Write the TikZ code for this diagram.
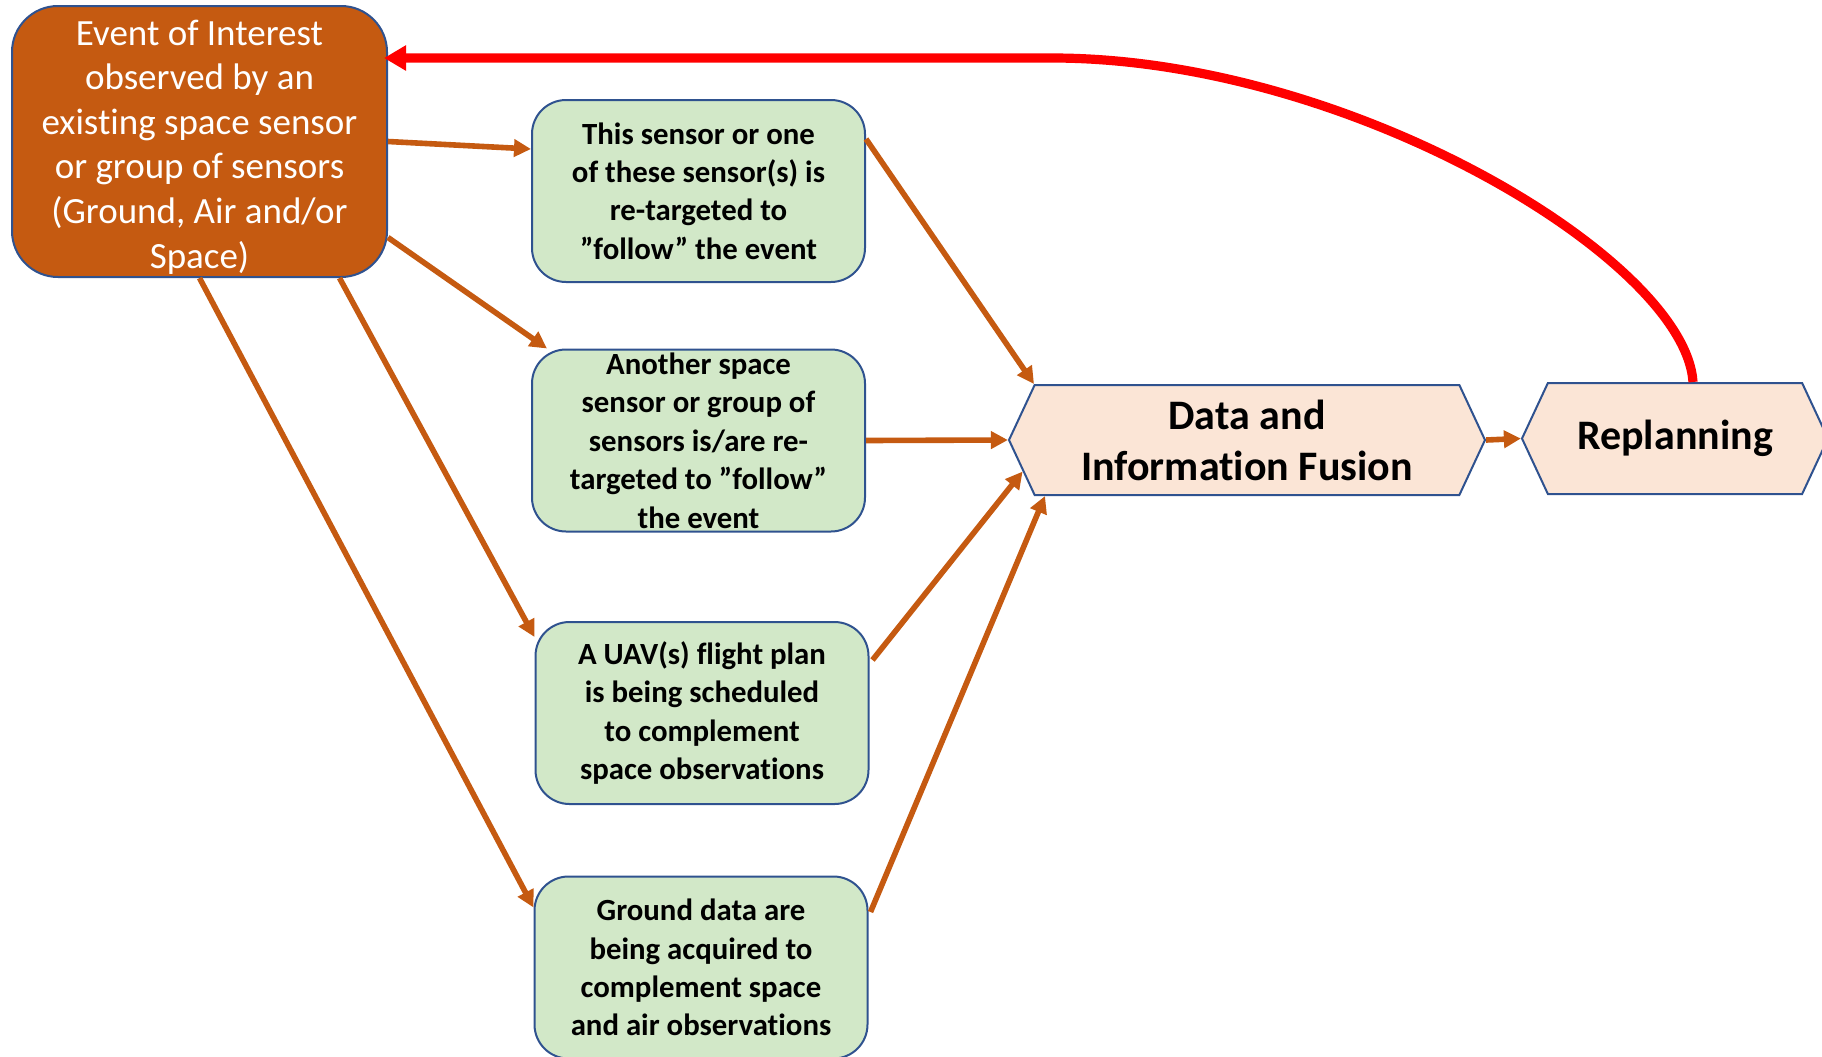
\documentclass[tikz,border=0pt]{standalone}
\usepackage{fontspec}
\setmainfont{Carlito}[RawFeature={-liga;-clig;-calt;-dlig}]
\usepackage{xcolor}
\usepackage{tikz}
\usetikzlibrary{calc, arrows.meta, shapes.symbols}
\definecolor{eventorange}{HTML}{C55A11}
\definecolor{borderblue}{HTML}{2F528F}
\definecolor{sensorgreen}{HTML}{D2E8C8}
\definecolor{fusionpeach}{HTML}{FBE5D6}
\tikzset{
    eventbox/.style={draw=borderblue, line width=1pt, rounded corners=23pt, fill=eventorange, text=white,
        minimum width=187.5pt, minimum height=135.5pt, inner sep=0pt, align=center,
        font=\fontsize{18.5}{22.3}\selectfont},
    sensorbox/.style={draw=borderblue, line width=1pt, rounded corners=17pt, fill=sensorgreen,
        minimum width=166.5pt, minimum height=91pt, inner sep=0pt, align=center,
        font=\fontsize{15.4}{19.2}\selectfont\bfseries},
    hexbox/.style={shape=signal, signal to=east and west, signal pointer angle=130, draw=borderblue,
        line width=1pt, fill=fusionpeach, inner sep=0pt, align=center,
        font=\fontsize{21}{25.5}\selectfont\bfseries},
    flow/.style={draw=eventorange, line width=2.8pt, -{Triangle[length=8.5pt,width=8.5pt]}},
    feedback/.style={draw=red, line width=4.6pt, -{Triangle[length=11pt,width=12pt]}}
}
\begin{document}
\begin{tikzpicture}[x=0.5pt, y=-0.5pt]
    \useasboundingbox (0,0) rectangle (1822,1056);
    \node[eventbox] (event) at (199.5,141.5) {\rule{0pt}{18pt}Event of Interest\\observed by an\\existing space sensor\\or group of sensors\\(Ground, Air and/or\\Space)};
    \node[sensorbox] (retarget) at (698.5,191) {This sensor or one\\of these sensor(s) is\\re-targeted to\\”follow” the event};
    \node[sensorbox] (another) at (698.5,440.5) {Another space\\sensor or group of\\sensors is/are re-\\targeted to ”follow”\\the event};
    \node[sensorbox] (uav) at (702,713) {A UAV(s) flight plan\\is being scheduled\\to complement\\space observations};
    \node[sensorbox] (ground) at (701,967.5) {Ground data are\\being acquired to\\complement space\\and air observations};
    \node[hexbox, minimum width=238pt, minimum height=55pt] (fusion) at (1247,440) {Data and\\Information Fusion};
    \node[hexbox, minimum width=153pt, minimum height=55.5pt] (replan) at (1675,438.5) {Replanning};

    \draw[flow] (event.east) -- ([yshift=21pt]retarget.west);
    \draw[flow] ([yshift=-48pt]event.east) -- ([xshift=8pt]another.north west);
    \draw[flow] ([xshift=70pt]event.south) -- ([yshift=-8pt]uav.north west);
    \draw[flow] (event.south) -- ([yshift=-16pt]ground.north west);
    \draw[flow] ([yshift=26pt]retarget.east) -- ([xshift=-106.5pt]fusion.north);
    \draw[flow] (another.east) -- (fusion.west);
    \draw[flow] ([xshift=1.5pt, yshift=26.5pt]uav.east) -- (fusion.188.7);
    \draw[flow] ([xshift=1pt, yshift=27.75pt]ground.east) -- ([xshift=-101pt]fusion.south);
    \draw[flow] (fusion.east) -- (replan.west);
    \draw[feedback] ([xshift=9pt]replan.north) .. controls (1685,260) and (1350,58) .. (1052,58) -- ([xshift=-2pt, yshift=41.75pt]event.east);
\end{tikzpicture}
\end{document}
